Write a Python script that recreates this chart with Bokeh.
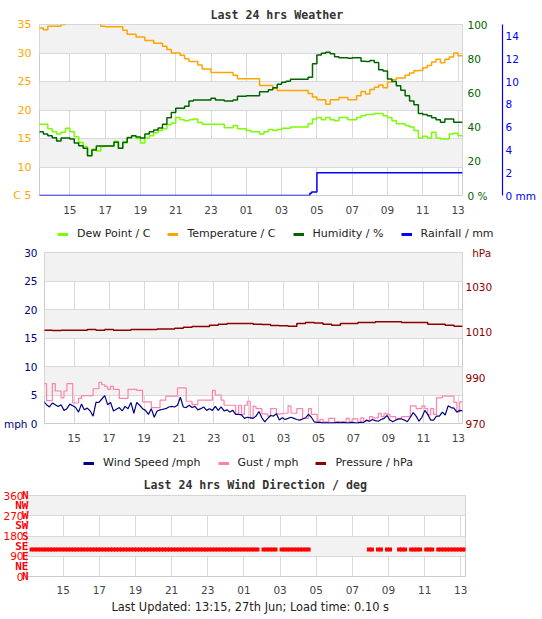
import numpy as np
from bokeh.plotting import figure
from bokeh.models import (Range1d, LinearAxis, FixedTicker, Legend, LegendItem, Title)
from bokeh.layouts import column
from bokeh.embed import file_html
from bokeh.resources import INLINE

# ---------------- data ----------------
hour_ticks = [15, 17, 19, 21, 23, 25, 27, 29, 31, 33, 35, 37]
hour_labels = ["15", "17", "19", "21", "23", "01", "03", "05", "07", "09", "11", "13"]

start_hour = 13.25                       # 13:15 yesterday
quarter_hours = start_hour + 0.25 * np.arange(97)
ten_min_hours = start_hour + np.arange(145) / 6.0
half_hours = start_hour + 0.5 * np.arange(49)

temperature_c = [
    34.4, 34.1, 34.7,
    34.7, 34.7, 35.0, 35.8,
    35.8, 35.8, 35.8, 35.6,
    35.6, 35.3, 35.6, 34.7,
    34.6, 34.6, 34.6, 34.6,
    34.0, 33.3, 33.3, 32.8,
    32.8, 32.2, 32.2, 31.7,
    31.7, 31.2, 30.6, 30.0,
    30.0, 29.6, 29.0, 28.5,
    28.5, 27.9, 27.2, 27.2,
    26.6, 26.6, 26.6, 26.6,
    26.6, 26.1, 25.5, 25.5,
    25.5, 25.5, 25.5, 24.3,
    24.3, 24.3, 23.8, 23.4,
    23.4, 23.4, 23.4, 23.4,
    23.4, 23.4, 22.9, 22.3,
    21.8, 21.8, 21.0, 21.8,
    21.8, 22.2, 22.2, 21.8,
    21.8, 22.5, 23.25, 22.8,
    23.6, 24.0, 24.4, 23.9,
    24.9, 25.3, 25.6, 25.6,
    26.1, 26.5, 26.9, 26.95,
    27.4, 27.8, 28.4, 28.9,
    28.3, 28.9, 29.3, 30.0,
    29.5, 29.5,
]

dew_point_c = [
    17.5, 17.5, 16.7,
    16.2, 15.8, 16.1, 16.8,
    16.2, 15.3, 14.3, 13.6,
    12.0, 13.1, 12.8, 13.6,
    13.7, 13.7, 14.5, 13.3,
    14.2, 15.2, 15.5, 15.0,
    14.2, 15.1, 15.5, 16.0,
    16.4, 16.7, 17.4, 17.7,
    18.7, 18.3, 18.1, 18.3,
    18.4, 17.8, 17.5, 17.5,
    17.5, 17.5, 17.5, 16.9,
    16.9, 17.3, 16.7, 16.7,
    16.4, 16.2, 16.2, 15.8,
    16.2, 16.6, 16.4, 16.6,
    16.8, 16.8, 17.0, 17.0,
    17.0, 17.0, 17.6, 18.4,
    18.7, 18.3, 18.7, 18.3,
    18.1, 18.7, 18.7, 18.3,
    18.3, 18.7, 19.0, 19.2,
    19.2, 19.4, 19.4, 19.0,
    18.7, 18.1, 17.6, 17.6,
    17.3, 17.0, 16.4, 15.1,
    15.4, 15.1, 16.1, 15.1,
    14.9, 14.9, 15.8, 15.9,
    15.5, 15.5,
]

humidity_pct = [
    37.3, 36.0, 35.0,
    33.8, 31.9, 33.6, 33.6,
    33.0, 30.7, 29.1, 27.6,
    23.3, 26.6, 28.9, 28.9,
    28.9, 28.9, 31.1, 27.6,
    31.1, 33.8, 35.0, 34.2,
    33.6, 36.0, 37.3, 38.3,
    39.5, 41.6, 45.5, 48.6,
    51.0, 51.0, 52.2, 55.3,
    55.8, 55.8, 55.8, 55.8,
    56.8, 55.8, 55.8, 55.3,
    55.3, 55.8, 58.0, 58.0,
    58.4, 58.4, 58.4, 60.7,
    60.7, 61.9, 63.0, 65.0,
    66.2, 66.8, 68.0, 68.0,
    68.0, 68.0, 69.1, 77.0,
    82.2, 83.2, 83.7, 82.9,
    81.2, 80.6, 80.6, 80.2,
    80.6, 80.6, 78.5, 78.3,
    79.0, 77.8, 73.6, 72.8,
    68.1, 66.6, 64.2, 61.5,
    58.4, 55.3, 53.0, 47.9,
    47.3, 46.7, 45.5, 44.3,
    42.8, 44.7, 44.7, 42.8,
    42.8, 42.8,
]

rain_hours = [13.25, 28.6, 28.7, 29.0, 37.25]
rain_mm = [0.0, 0.2, 0.3, 2.0, 2.0]

wind_mph = [
    3.9, 3.3, 2.9, 3.6, 3.3, 3.0, 3.3, 2.3, 2.6, 3.4, 3.1, 2.8,
    2.0, 3.4, 2.4, 2.7, 2.2, 1.3, 3.7, 3.7, 4.3, 4.9, 3.3, 3.7,
    2.2, 2.5, 2.8, 2.2, 3.0, 2.6, 3.7, 1.8, 3.7, 3.2, 2.6, 2.3,
    1.6, 2.6, 1.1, 2.2, 2.4, 2.5, 2.6, 2.9, 3.0, 2.9, 3.2, 4.6,
    2.9, 2.8, 3.2, 2.8, 3.0, 2.4, 2.6, 2.9, 2.3, 2.6, 2.3, 3.0,
    2.3, 2.9, 2.2, 2.4, 2.0, 2.3, 1.6, 1.6, 1.5, 0.9, 1.1, 1.0,
    0.9, 1.3, 2.1, 1.0, 0.3, 0.9, 1.4, 1.3, 1.7, 0.6, 1.0, 0.7,
    0.9, 1.1, 0.9, 0.7, 0.6, 0.8, 1.0, 1.6, 1.1, 0.3, 0.2, 0.2,
    0.1, 0.1, 0.1, 0.1, 0.1, 0.2, 0.1, 0.2, 0.1, 0.1, 0.2, 0.1,
    0.1, 0.2, 0.2, 0.6, 0.4, 0.7, 0.5, 0.4, 0.7, 0.9, 1.4, 0.6,
    0.3, 0.6, 0.8, 0.8, 0.6, 0.3, 1.1, 1.9, 1.3, 0.4, 1.1, 2.3,
    1.6, 0.6, 0.6, 1.3, 1.3, 2.0, 1.5, 3.1, 2.8, 2.7, 2.0, 2.3,
    2.2,
]

gust_mph = [
    7.0, 4.0, 4.0, 7.0, 5.7, 5.7, 4.5, 5.7, 7.0, 7.0, 3.6, 3.6,
    4.4, 4.9, 4.9, 4.9, 4.9, 6.1, 6.1, 7.2, 6.8, 6.5, 6.0, 6.5,
    6.0, 6.0, 4.4, 4.4, 4.4, 6.0, 6.0, 6.0, 5.8, 5.8, 3.8, 3.8,
    3.8, 2.8, 2.8, 2.8, 4.1, 4.1, 4.8, 4.8, 4.8, 4.8, 6.25, 6.25,
    6.25, 3.9, 3.9, 3.3, 3.3, 4.1, 4.1, 4.1, 4.1, 4.1, 5.8, 5.0,
    5.0, 4.1, 3.2, 3.2, 3.2, 3.2, 1.6, 3.2, 1.6, 3.2, 3.9, 1.0,
    3.0, 2.6, 2.6, 1.7, 1.7, 1.3, 2.6, 2.6, 1.7, 1.7, 1.8, 1.8,
    3.1, 1.8, 1.8, 2.6, 2.6, 0.9, 0.9, 2.6, 1.6, 1.6, 0.4, 0.75,
    0.3, 0.3, 0.9, 0.9, 0.3, 0.3, 0.3, 0.3, 0.9, 0.3, 0.8, 0.8,
    0.3, 1.0, 0.4, 0.4, 1.2, 1.0, 1.0, 1.8, 1.2, 1.8, 1.6, 1.2,
    1.2, 0.8, 0.9, 1.2, 1.2, 1.2, 3.1, 3.1, 2.6, 2.6, 3.1, 2.6,
    1.5, 2.6, 1.6, 4.5, 4.5, 4.8, 4.8, 4.8, 4.8, 3.7, 2.0, 3.8,
    3.8,
]

pressure_hpa = [
    1010.9, 1010.8, 1010.9, 1010.9, 1010.9, 1011.2, 1010.9, 1011.2, 1010.9, 1010.9, 1011.2, 1011.2,
    1011.2, 1011.5, 1011.5, 1011.8, 1012.2, 1012.5, 1012.5, 1013.1, 1013.5, 1013.9, 1013.9, 1013.9,
    1013.5, 1013.4, 1013.0, 1012.9, 1012.7, 1013.9, 1014.3, 1014.1, 1013.5, 1013.1, 1013.9, 1013.9,
    1014.3, 1014.3, 1014.6, 1014.6, 1014.6, 1014.3, 1014.3, 1014.3, 1013.5, 1013.5, 1013.1, 1012.7,
    1012.7,
]

N = None
wind_dir_deg = [
    120, 120, 120, 120, 120, 120, 120, 120, 120, 120, 120, 120,
    120, 120, 120, 120, 120, 120, 120, 120, 120, 120, 120, 120,
    120, 120, 120, 120, 120, 120, 120, 120, 120, 120, 120, 120,
    120, 120, 120, 120, 120, 120, 120, 120, 120, 120, 120, 120,
    120, 120, 120, 120, 120, 120, 120, 120, 120, 120, 120, 120,
    120, 120, 120, 120, 120, 120, 120, 120, 120, 120, 120, 120,
    120, 120, 120, 120, N, 120, 120, 120, 120, 120, N, 120,
    120, 120, 120, 120, 120, 120, 120, 120, 120, N, N, N,
    N, N, N, N, N, N, N, N, N, N, N, N,
    N, N, N, N, 120, 120, N, 120, 120, N, 120, 120,
    N, N, 120, 120, 120, N, 120, 120, 120, 120, N, 120,
    120, 120, N, 120, 120, 120, 120, 120, 120, 120, 120, 120,
    120,
]

compass_deg = [0, 45, 90, 135, 180, 225, 270, 315, 360]
compass_names = ["N", "NE", "E", "SE", "S", "SW", "W", "NW", "N"]

temp_ticks = [5, 10, 15, 20, 25, 30, 35]
hum_ticks = [0, 20, 40, 60, 80, 100]
rain_ticks = [0, 2, 4, 6, 8, 10, 12, 14]
mph_ticks = [0, 5, 10, 15, 20, 25, 30]
pres_ticks = [970, 990, 1010, 1030, 1045]
dir_ticks = [0, 90, 180, 270, 360]

# ---------------- styling helpers ----------------
FONT = "DejaVu Sans"
MONO = "DejaVu Sans Mono"
GRID = "#d9d9d9"
BAND = "#f2f2f2"
TICKC = "#444444"

C_TEMP = "#ffa500"
C_DEW = "#7cfc00"
C_HUM = "#006400"
C_RAIN = "#0000ff"
C_WIND = "#000080"
C_GUST = "#ff82ab"
C_PRES = "#8b0000"
C_DIR = "#ff0000"


def no_align(p):
    if "frame_align" in p.properties():
        p.frame_align = False


def plain_axis(ax, color, standoff, size="10.5px"):
    ax.axis_line_color = None
    ax.major_tick_line_color = None
    ax.minor_tick_line_color = None
    ax.major_tick_out = 0
    ax.major_tick_in = 0
    ax.minor_tick_out = 0
    ax.minor_tick_in = 0
    ax.major_label_standoff = standoff
    ax.major_label_text_font = FONT
    ax.major_label_text_font_size = size
    ax.major_label_text_color = color


def base_style(p, y_ticks, label_color, label_standoff, label_size="10.5px", x_standoff=10):
    no_align(p)
    p.background_fill_color = "white"
    p.border_fill_color = "white"
    p.outline_line_color = "#cccccc"
    p.xgrid.ticker = FixedTicker(ticks=hour_ticks)
    p.xgrid.grid_line_color = GRID
    p.ygrid.ticker = FixedTicker(ticks=y_ticks)
    p.ygrid.grid_line_color = GRID
    p.ygrid.band_fill_color = BAND
    p.ygrid.band_fill_alpha = 1.0
    xa = p.below[0]
    xa.ticker = FixedTicker(ticks=hour_ticks)
    xa.major_label_overrides = {t: l for t, l in zip(hour_ticks, hour_labels)}
    plain_axis(xa, TICKC, x_standoff)
    ya = p.left[0]
    ya.ticker = FixedTicker(ticks=y_ticks)
    plain_axis(ya, label_color, label_standoff, label_size)
    return xa, ya


def right_axis(range_name, ticks, color, standoff, line=False):
    ax = LinearAxis(y_range_name=range_name, ticker=FixedTicker(ticks=ticks))
    plain_axis(ax, color, standoff)
    if line:
        ax.axis_line_color = color
        ax.axis_line_width = 1.2
    return ax


def legend_strip(entries, height, loc):
    s = figure(width=542, height=height, x_range=Range1d(0, 1), y_range=Range1d(0, 1),
               x_axis_type=None, y_axis_type=None, output_backend="svg",
               toolbar_location=None, min_border=0)
    no_align(s)
    s.outline_line_color = None
    s.background_fill_color = "white"
    s.border_fill_color = "white"
    items = []
    for label, color in entries:
        # key-only renderer: its points lie outside the strip's ranges
        r = s.line(x=[-1, -2], y=[-1, -2], line_color=color, line_width=3)
        items.append(LegendItem(label=label, renderers=[r]))
    leg = Legend(items=items, orientation="horizontal", location=loc,
                 glyph_width=11, glyph_height=12, label_height=12, label_standoff=9,
                 spacing=17, padding=0, margin=0, border_line_color=None,
                 background_fill_alpha=0, label_text_font=FONT,
                 label_text_font_size="11px", label_text_color="#222222")
    s.add_layout(leg)
    return s


def style_title(t, offset, standoff):
    t.align = "left"
    t.offset = offset
    t.standoff = standoff
    t.text_font = MONO
    t.text_font_style = "bold"
    t.text_font_size = "11.6px"
    t.text_color = "#333333"


# ---------------- chart 1: temperature / dew / humidity / rain ----------------
p1 = figure(width=542, height=222, x_range=Range1d(13.28, 37.25), y_range=Range1d(5, 35),
            output_backend="svg", toolbar_location=None,
            min_border_left=39, min_border_right=80, min_border_top=24, min_border_bottom=27,
            title="Last 24 hrs Weather")
_, temp_axis = base_style(p1, temp_ticks, C_TEMP, 8, "11px")
temp_axis.major_label_overrides = {5: "C 5"}
style_title(p1.title, 171, 6)

p1.extra_y_ranges = {"hum": Range1d(0, 100), "rain": Range1d(0, 15)}
hum_ax = right_axis("hum", hum_ticks, C_HUM, 5)
hum_ax.major_label_overrides = {0: "0 %"}
hum_ax.axis_label = " "
hum_ax.axis_label_standoff = 0
hum_ax.axis_label_text_font_size = "8px"
p1.add_layout(hum_ax, "right")
rain_ax = right_axis("rain", rain_ticks, C_RAIN, 3, line=True)
rain_ax.major_label_overrides = {0: "0 mm"}
p1.add_layout(rain_ax, "right")

p1.step(rain_hours, rain_mm, mode="after", line_color=C_RAIN, line_width=1.5, y_range_name="rain")
p1.step(quarter_hours, dew_point_c, mode="after", line_color=C_DEW, line_width=1.5)
p1.step(quarter_hours, temperature_c, mode="after", line_color=C_TEMP, line_width=1.5)
p1.step(quarter_hours, humidity_pct, mode="after", line_color=C_HUM, line_width=1.5, y_range_name="hum")

leg1 = legend_strip([("Dew Point / C", C_DEW), ("Temperature / C", C_TEMP),
                     ("Humidity / %", C_HUM), ("Rainfall / mm", C_RAIN)], 22, (57, 4))

# ---------------- chart 2: wind / gust / pressure ----------------
p2 = figure(width=542, height=206, x_range=Range1d(13.3, 37.24), y_range=Range1d(0, 30),
            output_backend="svg", toolbar_location=None,
            min_border_left=40, min_border_right=80, min_border_top=8, min_border_bottom=27)
_, mph_axis = base_style(p2, mph_ticks, C_WIND, 7)
mph_axis.major_label_overrides = {0: "mph 0"}
p2.extra_y_ranges = {"pres": Range1d(970, 1045)}
pres_ax = right_axis("pres", pres_ticks, C_PRES, 3)
pres_ax.major_label_overrides = {1045: "\u00a0\u00a0hPa"}
p2.add_layout(pres_ax, "right")

p2.step(half_hours, pressure_hpa, mode="after", line_color=C_PRES, line_width=1.5, y_range_name="pres")
p2.step(ten_min_hours, gust_mph, mode="after", line_color=C_GUST, line_width=1.2)
p2.line(ten_min_hours, wind_mph, line_color=C_WIND, line_width=1.2)

leg2 = legend_strip([("Wind Speed /mph", C_WIND), ("Gust / mph", C_GUST),
                     ("Pressure / hPa", C_PRES)], 22, (83, 3))

# ---------------- chart 3: wind direction ----------------
p3 = figure(width=542, height=145, x_range=Range1d(12.97, 37.26), y_range=Range1d(0, 360),
            output_backend="svg", toolbar_location=None,
            min_border_left=25, min_border_right=77, min_border_top=22, min_border_bottom=41,
            title="Last 24 hrs Wind Direction / deg")
base_style(p3, dir_ticks, C_DIR, 3, "10.5px", x_standoff=9)
style_title(p3.title, 117, 7)

# compass names as a second left axis whose labels sit just inside the frame
compass_ax = LinearAxis(ticker=FixedTicker(ticks=compass_deg))
compass_ax.major_label_overrides = {d: n for d, n in zip(compass_deg, compass_names)}
plain_axis(compass_ax, C_DIR, -28, "11px")
compass_ax.major_label_text_font = MONO
compass_ax.major_label_text_font_style = "bold"
compass_ax.major_label_text_align = "left"
p3.add_layout(compass_ax, "left")

wd = np.array([np.nan if v is None else v for v in wind_dir_deg], dtype=float)
p3.scatter(ten_min_hours, wd, marker="square", size=4, line_color=None, fill_color=C_DIR)

footer = Title(text="Last Updated: 13:15, 27th Jun; Load time: 0.10 s", align="left",
               offset=85, standoff=3, text_font=FONT, text_font_style="normal",
               text_font_size="11.4px", text_color="#222222")
p3.add_layout(footer, "below")

layout = column(p1, leg1, p2, leg2, p3)

open("out.html", "w").write(file_html(layout, INLINE))
